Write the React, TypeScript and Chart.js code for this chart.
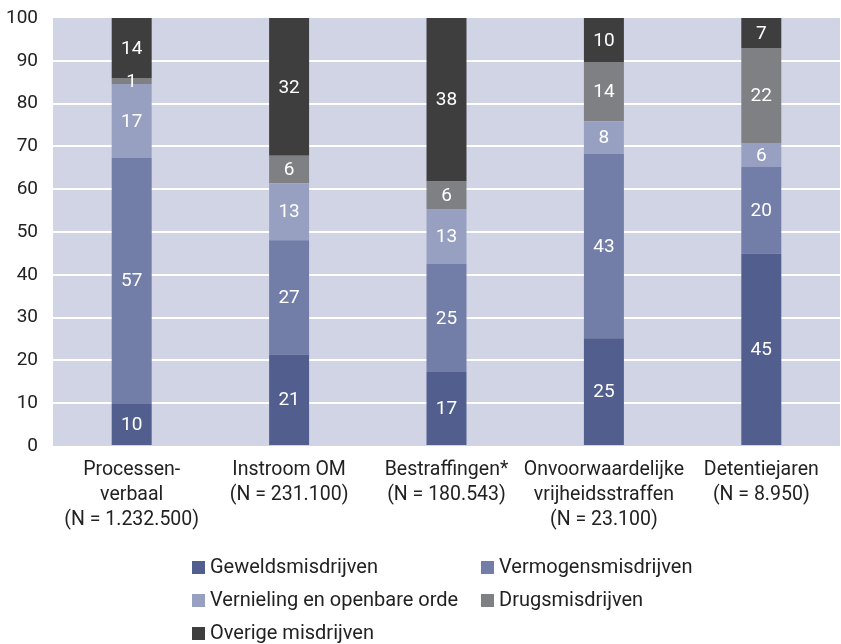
import { useEffect, useRef } from "react";
import { Chart, registerables } from "chart.js";

Chart.register(...registerables);

const categories: string[][] = [
  ["Processen-", "verbaal", "(N = 1.232.500)"],
  ["Instroom OM", "(N = 231.100)"],
  ["Bestraffingen*", "(N = 180.543)"],
  ["Onvoorwaardelijke", "vrijheidsstraffen", "(N = 23.100)"],
  ["Detentiejaren", "(N = 8.950)"],
];

const seriesNames = [
  "Geweldsmisdrijven",
  "Vermogensmisdrijven",
  "Vernieling en openbare orde",
  "Drugsmisdrijven",
  "Overige misdrijven",
];

const geweld = [10.0, 21.4, 17.3, 25.2, 44.9];
const vermogen = [57.3, 26.7, 25.2, 43.0, 20.3];
const vernieling = [17.3, 13.3, 12.9, 7.7, 5.6];
const drugs = [1.4, 6.4, 6.4, 13.8, 22.2];
const overige = [14.0, 32.2, 38.2, 10.3, 7.0];

const seriesColors = ["#525E8E", "#727DA8", "#98A0C2", "#7F8083", "#3E3E3F"];

const yMin = 0;
const yMax = 100;
const yStep = 10;

const FONT = "Roboto";

const plotBgPlugin = {
  id: "plotBg",
  beforeDraw(chart: any) {
    const { ctx, chartArea } = chart;
    ctx.save();
    ctx.fillStyle = "#D1D4E5";
    ctx.fillRect(chartArea.left, chartArea.top, chartArea.right - chartArea.left, chartArea.bottom - chartArea.top);
    ctx.restore();
  },
};

const valueLabelPlugin = {
  id: "valueLabels",
  afterDatasetsDraw(chart: any) {
    const { ctx } = chart;
    ctx.save();
    ctx.font = `19px ${FONT}`;
    ctx.fillStyle = "#FFFFFF";
    ctx.textAlign = "center";
    ctx.textBaseline = "middle";
    chart.data.datasets.forEach((ds: any, i: number) => {
      const meta = chart.getDatasetMeta(i);
      meta.data.forEach((el: any, j: number) => {
        const v = ds.data[j];
        const y = (el.y + el.base) / 2;
        ctx.fillText(String(Math.round(v)), el.x, y + 1);
      });
    });
    ctx.restore();
  },
};

const gridLegendPlugin = {
  id: "gridLegend",
  afterDraw(chart: any) {
    const { ctx } = chart;
    const cols = [192, 481];
    const rows = [567, 600, 633];
    ctx.save();
    ctx.font = `20px ${FONT}`;
    ctx.textBaseline = "middle";
    ctx.textAlign = "left";
    chart.data.datasets.forEach((ds: any, i: number) => {
      const x = cols[i % 2];
      const y = rows[Math.floor(i / 2)];
      ctx.fillStyle = ds.backgroundColor;
      ctx.fillRect(x, y - 6, 13, 13);
      ctx.fillStyle = "#222222";
      ctx.fillText(ds.label, x + 18, y + 1);
    });
    ctx.restore();
  },
};

export default function App() {
  const canvasRef = useRef<HTMLCanvasElement | null>(null);

  useEffect(() => {
    if (!canvasRef.current) return;
    const seriesData = [geweld, vermogen, vernieling, drugs, overige];
    const chart = new Chart(canvasRef.current, {
      type: "bar",
      data: {
        labels: categories,
        datasets: seriesNames.map((name, i) => ({
          label: name,
          data: seriesData[i],
          backgroundColor: seriesColors[i],
          borderWidth: 0,
          barPercentage: 1,
          categoryPercentage: 0.254,
        })),
      },
      options: {
        responsive: false,
        animation: false,
        devicePixelRatio: 1,
        layout: { padding: { top: 18, right: 1, left: 0, bottom: 0 } },
        plugins: {
          legend: { display: false },
          tooltip: { enabled: false },
          title: { display: false },
        },
        scales: {
          x: {
            stacked: true,
            grid: { display: false, drawTicks: false },
            border: { display: false },
            ticks: {
              color: "#222222",
              font: { family: FONT, size: 19.5, lineHeight: 1.3 },
              padding: 11,
              maxRotation: 0,
              autoSkip: false,
            },
            afterFit: (scale: any) => {
              scale.height = 198;
              scale.paddingLeft = 0;
              scale.paddingRight = 0;
            },
          },
          y: {
            stacked: true,
            min: yMin,
            max: yMax,
            grid: {
              color: (c: any) => (c.tick && (c.tick.value === yMin || c.tick.value === yMax) ? "rgba(0,0,0,0)" : "#FFFFFF"),
              lineWidth: 2,
              drawTicks: false,
            },
            border: { display: false },
            ticks: {
              stepSize: yStep,
              color: "#222222",
              font: { family: FONT, size: 19 },
              padding: 15,
            },
            afterFit: (scale: any) => {
              scale.width = 53;
              scale.paddingTop = 0;
              scale.paddingBottom = 0;
            },
          },
        },
      },
      plugins: [plotBgPlugin, valueLabelPlugin, gridLegendPlugin],
    });
    return () => chart.destroy();
  }, []);

  return (
    <div style={{ position: "absolute", left: 0, top: 0, width: 841, height: 644, background: "#FFFFFF" }}>
      <canvas ref={canvasRef} width={841} height={644} style={{ width: 841, height: 644 }} />
    </div>
  );
}
